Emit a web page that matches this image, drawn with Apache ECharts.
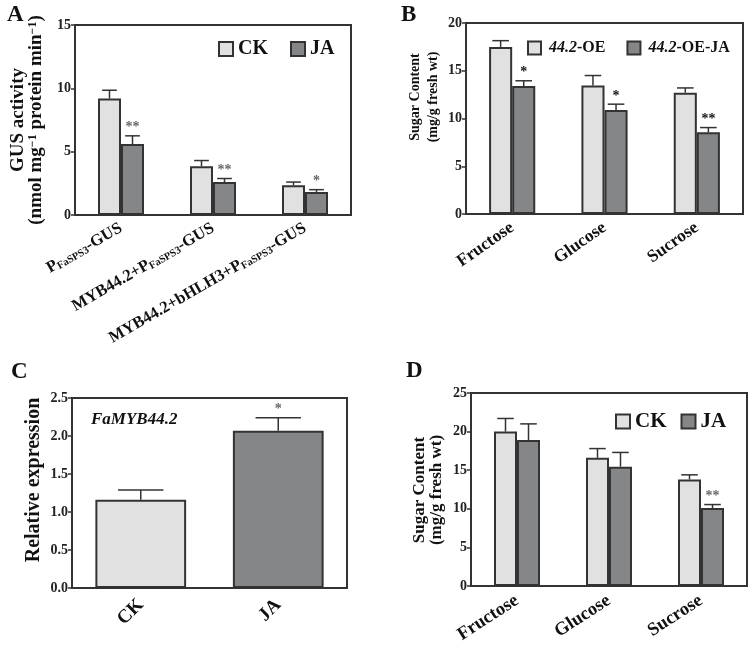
<!DOCTYPE html>
<html>
<head>
<meta charset="utf-8">
<script src="https://cdn.jsdelivr.net/npm/echarts@6/dist/echarts.min.js"></script>
<style>html,body{margin:0;padding:0;background:#fff}#c{width:750px;height:656px}</style>
</head>
<body>
<div id="c"></div>
<script>
// ---------- data ----------
const catA = ['PFaSPS3-GUS', 'MYB44.2+PFaSPS3-GUS', 'MYB44.2+bHLH3+PFaSPS3-GUS'];
const ckA = [9.2, 3.85, 2.35];
const ckAErr = [0.65, 0.45, 0.25];
const jaA = [5.6, 2.6, 1.82];
const jaAErr = [0.65, 0.28, 0.18];
const starsA = ['**', '**', '*'];

const catB = ['Fructose', 'Glucose', 'Sucrose'];
const oeB = [17.5, 13.45, 12.7];
const oeBErr = [0.65, 1.05, 0.5];
const oeJaB = [13.4, 10.9, 8.55];
const oeJaBErr = [0.55, 0.6, 0.5];
const starsB = ['*', '*', '**'];

const catC = ['CK', 'JA'];
const valC = [1.16, 2.07];
const errC = [0.13, 0.17];
const starsC = ['', '*'];

const catD = ['Fructose', 'Glucose', 'Sucrose'];
const ckD = [20.0, 16.6, 13.8];
const ckDErr = [1.7, 1.2, 0.6];
const jaD = [18.9, 15.45, 10.1];
const jaDErr = [2.1, 1.85, 0.45];
const starsD = ['', '', '**'];

// ---------- styles ----------
const FF = 'Liberation Serif';
const LIGHT = '#e0e1e0';
const DARK = '#858687';
const LINE = '#333';
const noStars = ['', '', ''];

function errSeries(xi, vals, errs, offsetFrac, capFrac, stars, starColor) {
  return {
    type: 'custom', xAxisIndex: xi, yAxisIndex: xi, z: 5,
    encode: { x: 0, y: 1 },
    data: vals.map((v, i) => [i, v, errs[i]]),
    renderItem: function (params, api) {
      const i = api.value(0), v = api.value(1), e = api.value(2);
      const band = api.size([1, 0])[0];
      const base = api.coord([i, v]);
      const top = api.coord([i, v + e]);
      const x = base[0] + band * offsetFrac;
      const cap = band * capFrac / 2;
      const ch = [
        { type: 'line', shape: { x1: x, y1: base[1], x2: x, y2: top[1] }, style: { stroke: LINE, lineWidth: 1.5 } },
        { type: 'line', shape: { x1: x - cap, y1: top[1], x2: x + cap, y2: top[1] }, style: { stroke: LINE, lineWidth: 1.5 } }
      ];
      const s = stars[params.dataIndex];
      if (s) {
        ch.push({ type: 'text', style: { x: x, y: top[1] - 1, text: s, align: 'center', verticalAlign: 'bottom',
          fill: starColor, fontSize: 14, fontFamily: FF, fontWeight: 'bold' } });
      }
      return { type: 'group', children: ch };
    }
  };
}

function barSeries(xi, name, vals, color, gap) {
  return {
    type: 'bar', name: name, xAxisIndex: xi, yAxisIndex: xi, data: vals,
    barGap: '0%', barCategoryGap: gap,
    itemStyle: { color: color, borderColor: LINE, borderWidth: 2 }
  };
}

const grids = [
  { left: 75, top: 25, width: 276, height: 190 },
  { left: 466, top: 23, width: 277, height: 191 },
  { left: 72, top: 398, width: 275, height: 190 },
  { left: 471, top: 393, width: 276, height: 193 }
].map(g => Object.assign(g, { show: true, borderColor: LINE, borderWidth: 2, backgroundColor: 'transparent' }));

function xAx(gi, data, rotate, fontSize, margin) {
  return {
    type: 'category', gridIndex: gi, data: data,
    axisLine: { lineStyle: { color: LINE, width: 2 } },
    axisTick: { alignWithLabel: true, length: 5, lineStyle: { color: LINE, width: 2 } },
    axisLabel: { interval: 0, rotate: rotate, margin: margin, color: '#111', fontFamily: FF, fontWeight: 'bold', fontSize: fontSize }
  };
}
function yAx(gi, max, interval, fontSize, fmt) {
  return {
    type: 'value', gridIndex: gi, min: 0, max: max, interval: interval,
    splitLine: { show: false },
    axisLine: { show: true, lineStyle: { color: LINE, width: 2 } },
    axisTick: { show: true, length: 4, lineStyle: { color: LINE, width: 1.5 } },
    axisLabel: { margin: 4, color: '#222', fontFamily: FF, fontWeight: 'bold', fontSize: fontSize, formatter: fmt }
  };
}

const xA = xAx(0, catA, 30, 16.5, 12);
xA.axisLabel.formatter = v => v.replace('FaSPS3', '{s|FaSPS3}');
xA.axisLabel.rich = { s: { fontSize: 10.5, fontFamily: FF, fontWeight: 'bold', color: '#111', verticalAlign: 'bottom' } };

const letterStyle = { fontSize: 23, fontWeight: 'bold', fontFamily: FF, color: '#111' };
const legendItem = { borderColor: LINE, borderWidth: 2 };

const chart = echarts.init(document.getElementById('c'), null, { renderer: 'canvas' });
chart.setOption({
  animation: false,
  backgroundColor: '#fff',
  title: [
    { text: 'A', left: 7, top: 4, padding: 0, textStyle: letterStyle },
    { text: 'B', left: 401, top: 4, padding: 0, textStyle: letterStyle },
    { text: 'C', left: 11, top: 361, padding: 0, textStyle: letterStyle },
    { text: 'D', left: 406, top: 360, padding: 0, textStyle: letterStyle },
    { text: 'FaMYB44.2', left: 91, top: 411, padding: 0,
      textStyle: { fontSize: 17, fontWeight: 'bold', fontStyle: 'italic', fontFamily: FF, color: '#111' } }
  ],
  legend: [
    { left: 218, top: 39, icon: 'rect', itemWidth: 14, itemHeight: 14, itemGap: 22, padding: 0, selectedMode: false,
      itemStyle: legendItem,
      data: ['CK', 'JA'], textStyle: { fontFamily: FF, fontWeight: 'bold', fontSize: 20, color: '#111' } },
    { left: 527, top: 40, icon: 'rect', itemWidth: 13, itemHeight: 13, itemGap: 21, padding: 0, selectedMode: false,
      itemStyle: legendItem,
      data: ['44.2-OE', '44.2-OE-JA'], formatter: n => n.replace('44.2', '{i|44.2}'),
      textStyle: { fontFamily: FF, fontWeight: 'bold', fontSize: 16, color: '#111', padding: [0, 0, 0, 3],
        rich: { i: { fontFamily: FF, fontWeight: 'bold', fontStyle: 'italic', fontSize: 16, color: '#111' } } } },
    { left: 615, top: 411, icon: 'rect', itemWidth: 14, itemHeight: 14, itemGap: 14, padding: 0, selectedMode: false,
      itemStyle: legendItem,
      data: ['CK', 'JA'], textStyle: { fontFamily: FF, fontWeight: 'bold', fontSize: 21, color: '#111' } }
  ],
  grid: grids,
  xAxis: [xA, xAx(1, catB, 35, 17.5, 12), xAx(2, catC, 45, 19, 14), xAx(3, catD, 33, 18.5, 13)],
  yAxis: [yAx(0, 15, 5, 14), yAx(1, 20, 5, 14), yAx(2, 2.5, 0.5, 14, v => v.toFixed(1)), yAx(3, 25, 5, 14)],
  graphic: [
    { type: 'text', x: 27, y: 120, rotation: Math.PI / 2,
      style: { text: '{a|GUS activity}\n{a|(nmol mg}{s|−1}{a| protein min}{s|−1}{a|)}', align: 'center', verticalAlign: 'middle',
        rich: { a: { fontFamily: FF, fontWeight: 'bold', fontSize: 19, lineHeight: 18, fill: '#111' },
                s: { fontFamily: FF, fontWeight: 'bold', fontSize: 12, lineHeight: 18, verticalAlign: 'top', fill: '#111' } } } },
    { type: 'text', x: 424, y: 97, rotation: Math.PI / 2,
      style: { text: 'Sugar Content\n(mg/g fresh wt)', align: 'center', verticalAlign: 'middle', lineHeight: 18,
        fontFamily: FF, fontWeight: 'bold', fontSize: 14, fill: '#111' } },
    { type: 'text', x: 34, y: 480, rotation: Math.PI / 2,
      style: { text: 'Relative expression', align: 'center', verticalAlign: 'middle',
        fontFamily: FF, fontWeight: 'bold', fontSize: 20, fill: '#111' } },
    { type: 'text', x: 428, y: 490, rotation: Math.PI / 2,
      style: { text: 'Sugar Content\n(mg/g fresh wt)', align: 'center', verticalAlign: 'middle', lineHeight: 17,
        fontFamily: FF, fontWeight: 'bold', fontSize: 17, fill: '#111' } }
  ],
  series: [
    barSeries(0, 'CK', ckA, LIGHT, '50%'),
    barSeries(0, 'JA', jaA, DARK, '50%'),
    errSeries(0, ckA, ckAErr, -0.125, 0.16, noStars, '#666'),
    errSeries(0, jaA, jaAErr, 0.125, 0.16, starsA, '#666'),

    barSeries(1, '44.2-OE', oeB, LIGHT, '50%'),
    barSeries(1, '44.2-OE-JA', oeJaB, DARK, '50%'),
    errSeries(1, oeB, oeBErr, -0.125, 0.18, noStars, '#111'),
    errSeries(1, oeJaB, oeJaBErr, 0.125, 0.18, starsB, '#111'),

    barSeries(2, 'expr', valC.map((v, i) => ({ value: v, itemStyle: { color: i === 0 ? LIGHT : DARK } })), LIGHT, '34%'),
    errSeries(2, valC, errC, 0, 0.33, starsC, '#666'),

    barSeries(3, 'CK', ckD, LIGHT, '50%'),
    barSeries(3, 'JA', jaD, DARK, '50%'),
    errSeries(3, ckD, ckDErr, -0.125, 0.18, noStars, '#666'),
    errSeries(3, jaD, jaDErr, 0.125, 0.18, starsD, '#666')
  ]
});
</script>
</body>
</html>
